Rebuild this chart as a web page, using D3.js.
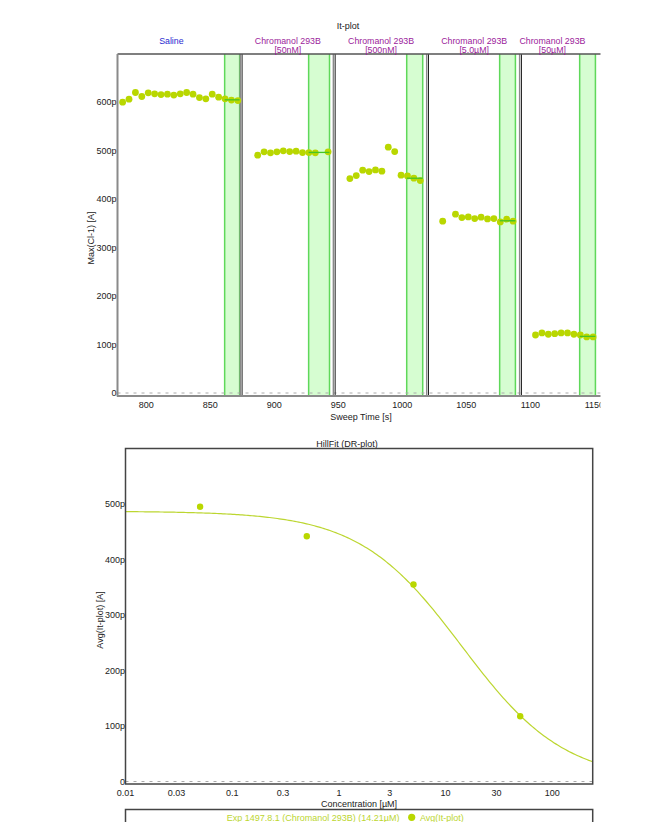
<!DOCTYPE html>
<html>
<head>
<meta charset="utf-8">
<script src="https://cdn.jsdelivr.net/npm/d3@7"></script>
<style>
  html, body { margin: 0; padding: 0; background: #fff; }
  svg { display: block; font-family: "Liberation Sans", Arial, sans-serif; }
</style>
</head>
<body>
<svg id="chart" width="672" height="822"></svg>
<script>
// ---- It-plot: peak current per sweep (pA), one array pair per application ----
const salineTime = [781.5, 786.5, 791.5, 796.5, 801.5, 806.5, 811.5, 816.5, 821.5, 826.5, 831.5, 836.5, 841.5, 846.5, 851.5, 856.5, 861.5, 866.5, 871.5];
const salineCurrent = [600.6, 606.8, 620.5, 612.2, 619.8, 617.8, 616.3, 617.1, 615.1, 617.8, 620.5, 617.1, 610.1, 607.4, 617.1, 610.9, 607.4, 604.8, 603.9];

const c50nMTime = [887, 892, 897, 902, 907, 912, 917, 922, 927, 932, 942];
const c50nMCurrent = [491.1, 497.9, 495.9, 497.9, 500.0, 498.6, 499.4, 496.5, 496.5, 495.9, 497.9];

const c500nMTime = [959, 964, 969, 974, 979, 984, 989, 994, 999, 1004, 1009, 1014];
const c500nMCurrent = [442.8, 449.0, 460.1, 457.2, 460.7, 458.0, 507.6, 498.6, 449.8, 448.3, 443.6, 438.6];

const c5uMTime = [1031.5, 1041.5, 1046.5, 1051.5, 1056.5, 1061.5, 1066.5, 1071.5, 1076.5, 1081.5, 1086.5];
const c5uMCurrent = [354.8, 369.2, 362.2, 363.6, 360.1, 363.0, 359.5, 360.1, 353.3, 358.9, 354.8];

const c50uMTime = [1104, 1109, 1114, 1119, 1124, 1129, 1134, 1139, 1144, 1149];
const c50uMCurrent = [119.8, 124.0, 121.3, 122.5, 124.0, 124.0, 121.3, 119.8, 115.7, 115.7];

// application boundaries (s) and analysis windows (s)
const segmentBounds = [765, 874.2, 946.9, 1019.8, 1092.4, 1142];
const segmentNames = ["Saline", "Chromanol 293B", "Chromanol 293B", "Chromanol 293B", "Chromanol 293B"];
const segmentConc = ["", "[50nM]", "[500nM]", "[5.0µM]", "[50µM]"];
const windowStart = [861.2, 926.8, 1003.4, 1076.0, 1138.5];
const windowEnd = [872.9, 943.1, 1015.9, 1088.3, 1150.8];

const itYTicks = [0, 100, 200, 300, 400, 500, 600];
const itXTicks = [800, 850, 900, 950, 1000, 1050, 1100, 1150];

// ---- DR-plot: window averages vs concentration ----
const drConc = [0.05, 0.5, 5, 50];           // µM
const drAvg = [495, 442, 355, 117.5];         // pA
const drXTicks = [0.01, 0.03, 0.1, 0.3, 1, 3, 10, 30, 100];
const drYTicks = [0, 100, 200, 300, 400, 500];

// Hill fit parameters
const hillTop = 487, hillBottom = 0, hillIC50 = 14.21, hillN = 0.9;

const POINT = "#b9d700";
const CURVE = "#bcd630";
const BAND_FILL = "#d6fdd1";
const BAND_EDGE = "#5fd85a";
const AVG_LINE = "#46c425";
const TEXT = "#222";

const fmtP = v => v === 0 ? "0" : v + "p";

const svg = d3.select("#chart");

// =================== It-plot ===================
const itX = d3.scaleLinear().domain([777.5, 1155]).range([117.5, 600.8]);
const itY = d3.scaleLinear().domain([0, 700]).range([393, 54]);

const series = [
  {t: salineTime, v: salineCurrent},
  {t: c50nMTime, v: c50nMCurrent},
  {t: c500nMTime, v: c500nMCurrent},
  {t: c5uMTime, v: c5uMCurrent},
  {t: c50uMTime, v: c50uMCurrent}
];

svg.append("clipPath").attr("id", "itClip")
  .append("rect").attr("x", 0).attr("y", 0).attr("width", 600.5).attr("height", 430);

const it = svg.append("g").attr("clip-path", "url(#itClip)");

svg.append("text").attr("x", 348).attr("y", 29).attr("text-anchor", "middle")
  .attr("font-size", 9).attr("fill", TEXT).text("It-plot");

// segment labels (second line partly tucked under the frame)
segmentNames.forEach((name, i) => {
  const cx = itX((segmentBounds[i] + segmentBounds[i + 1]) / 2);
  const isSaline = segmentConc[i] === "";
  const color = isSaline ? "#2a2ad0" : "#9b1c9b";
  svg.append("text").attr("x", cx).attr("y", 43.5).attr("text-anchor", "middle")
    .attr("font-size", 8.8).attr("fill", color).text(name);
  if (!isSaline) {
    svg.append("text").attr("x", cx).attr("y", 53).attr("text-anchor", "middle")
      .attr("font-size", 8.8).attr("fill", color).text(segmentConc[i]);
  }
});

// analysis windows
windowStart.forEach((s, i) => {
  const x0 = itX(s), x1 = itX(windowEnd[i]);
  it.append("rect").attr("x", x0).attr("y", itY(700)).attr("width", x1 - x0)
    .attr("height", itY(0) + 3 - itY(700)).attr("fill", BAND_FILL);
  [x0, x1].forEach(x => it.append("line").attr("x1", x).attr("x2", x)
    .attr("y1", itY(700)).attr("y2", itY(0) + 3).attr("stroke", BAND_EDGE).attr("stroke-width", 1.5));
});

// zero reference line
it.append("line").attr("x1", itX.range()[0]).attr("x2", itX.range()[1])
  .attr("y1", itY(0)).attr("y2", itY(0)).attr("stroke", "#aaa")
  .attr("stroke-dasharray", "3,5").attr("stroke-width", 1);

// segment dividers
segmentBounds.slice(1, -1).forEach(b => {
  const x = itX(b);
  it.append("line").attr("x1", x - 1).attr("x2", x - 1).attr("y1", itY(700)).attr("y2", itY(0) + 3)
    .attr("stroke", "#8a8a8a").attr("stroke-width", 1.5);
  it.append("line").attr("x1", x + 0.8).attr("x2", x + 0.8).attr("y1", itY(700)).attr("y2", itY(0) + 3)
    .attr("stroke", "#222").attr("stroke-width", 1);
});

// frame: top, left axis, bottom axis
it.append("line").attr("x1", 117.5).attr("x2", 601).attr("y1", itY(700)).attr("y2", itY(700))
  .attr("stroke", "#555").attr("stroke-width", 1.5);
it.append("line").attr("x1", 117.5).attr("x2", 117.5).attr("y1", itY(700)).attr("y2", itY(0) + 3.5)
  .attr("stroke", "#8a8a8a").attr("stroke-width", 2);
it.append("line").attr("x1", 117).attr("x2", 601).attr("y1", itY(0) + 3).attr("y2", itY(0) + 3)
  .attr("stroke", "#8a8a8a").attr("stroke-width", 2);

// points
series.forEach(s => {
  it.append("g").selectAll("circle").data(s.t).join("circle")
    .attr("cx", d => itX(d)).attr("cy", (d, i) => itY(s.v[i])).attr("r", 3.4)
    .attr("fill", POINT);
});

// window average lines
series.forEach((s, k) => {
  const inWin = s.v.filter((v, i) => s.t[i] >= windowStart[k] && s.t[i] <= windowEnd[k]);
  const avg = d3.mean(inWin);
  it.append("line").attr("x1", itX(windowStart[k])).attr("x2", itX(windowEnd[k]))
    .attr("y1", itY(avg)).attr("y2", itY(avg)).attr("stroke", AVG_LINE).attr("stroke-width", 1.3);
});

// y ticks
svg.append("g").selectAll("text").data(itYTicks).join("text")
  .attr("x", 116.5).attr("y", d => itY(d) + 3).attr("text-anchor", "end")
  .attr("font-size", 9).attr("fill", TEXT).text(fmtP);

// x ticks (clipped at the right edge)
it.append("g").selectAll("text").data(itXTicks).join("text")
  .attr("x", d => itX(d)).attr("y", 407.5).attr("text-anchor", "middle")
  .attr("font-size", 9).attr("fill", TEXT).text(d => d);

svg.append("text").attr("x", 361).attr("y", 419.5).attr("text-anchor", "middle")
  .attr("font-size", 9).attr("fill", TEXT).text("Sweep Time [s]");
svg.append("text").attr("transform", "translate(93.5,238) rotate(-90)")
  .attr("text-anchor", "middle").attr("font-size", 9).attr("fill", TEXT).text("Max(Cl-1) [A]");

// =================== DR-plot ===================
const drX = d3.scaleLog().domain([0.01, 239]).range([125.5, 592.7]);
const drY = d3.scaleLinear().domain([0, 600]).range([781.5, 448.5]);

svg.append("text").attr("x", 347).attr("y", 447).attr("text-anchor", "middle")
  .attr("font-size", 9).attr("fill", TEXT).text("HillFit (DR-plot)");

svg.append("line").attr("x1", drX.range()[0]).attr("x2", drX.range()[1])
  .attr("y1", drY(0)).attr("y2", drY(0)).attr("stroke", "#aaa")
  .attr("stroke-dasharray", "3,5").attr("stroke-width", 1);

// fitted Hill curve
const hill = c => hillBottom + (hillTop - hillBottom) / (1 + Math.pow(c / hillIC50, hillN));
const curveConc = d3.range(0, 241).map(i => Math.pow(10, Math.log10(0.01) + i * (Math.log10(239) - Math.log10(0.01)) / 240));
svg.append("path").datum(curveConc)
  .attr("d", d3.line().x(c => drX(c)).y(c => drY(hill(c))))
  .attr("fill", "none").attr("stroke", CURVE).attr("stroke-width", 1.2);

svg.append("g").selectAll("circle").data(drConc).join("circle")
  .attr("cx", d => drX(d)).attr("cy", (d, i) => drY(drAvg[i])).attr("r", 3.2)
  .attr("fill", POINT);

// frame
svg.append("rect").attr("x", 125.5).attr("y", 448.5).attr("width", 592.7 - 125.5)
  .attr("height", 784 - 448.5).attr("fill", "none").attr("stroke", "#444").attr("stroke-width", 1.5);

svg.append("g").selectAll("text").data(drYTicks).join("text")
  .attr("x", 125).attr("y", d => drY(d) + 3).attr("text-anchor", "end")
  .attr("font-size", 9).attr("fill", TEXT).text(fmtP);

svg.append("g").selectAll("text").data(drXTicks).join("text")
  .attr("x", d => drX(d)).attr("y", 796).attr("text-anchor", "middle")
  .attr("font-size", 9).attr("fill", TEXT).text(d => d);

svg.append("text").attr("x", 359).attr("y", 806.5).attr("text-anchor", "middle")
  .attr("font-size", 9).attr("fill", TEXT).text("Concentration [µM]");
svg.append("text").attr("transform", "translate(103,620) rotate(-90)")
  .attr("text-anchor", "middle").attr("font-size", 9).attr("fill", TEXT).text("Avg(It-plot) [A]");

// legend
svg.append("rect").attr("x", 125.5).attr("y", 809.5).attr("width", 592.7 - 125.5)
  .attr("height", 20).attr("fill", "none").attr("stroke", "#444").attr("stroke-width", 1.5);
svg.append("text").attr("x", 399.5).attr("y", 820.5).attr("text-anchor", "end")
  .attr("font-size", 9).attr("fill", CURVE).text("Exp 1497.8.1 (Chromanol 293B) (" + hillIC50 + "µM)");
svg.append("circle").attr("cx", 411.7).attr("cy", 817.3).attr("r", 3.6).attr("fill", POINT);
svg.append("text").attr("x", 420).attr("y", 820.5).attr("font-size", 9).attr("fill", CURVE).text("Avg(It-plot)");
</script>
</body>
</html>
